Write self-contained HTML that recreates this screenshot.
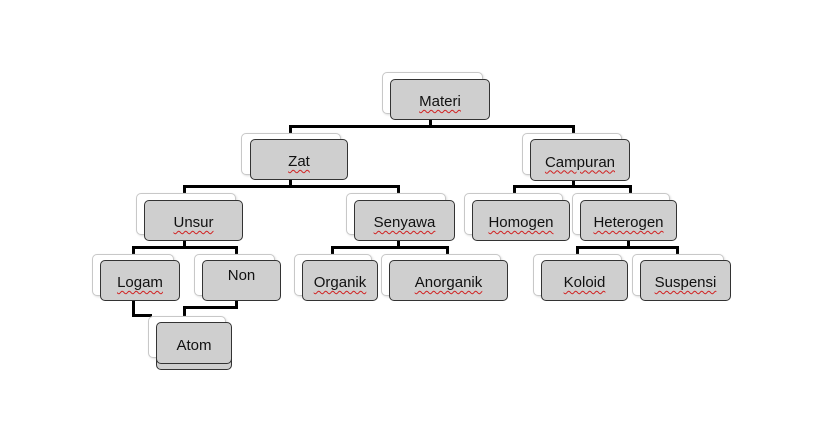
<!DOCTYPE html>
<html><head><style>
body{margin:0;width:826px;height:428px;background:#fff;position:relative;overflow:hidden;font-family:"Liberation Sans",Arial,sans-serif}
.b{position:absolute;background:#fff;border:1px solid #c8c8c8;border-radius:5px;box-shadow:1px 1px 2px #ddd}
.f{position:absolute;background:#cfcfcf;border:1px solid #333;border-radius:5px;box-sizing:border-box;display:flex;align-items:center;justify-content:center;font-size:15px;color:#111;padding-top:4px}
.f span{text-decoration:underline wavy #d02020;text-decoration-thickness:1px;text-underline-offset:3px}
.l{position:absolute;background:#000}
</style></head><body>
<div class="l" style="left:429px;top:119px;width:3px;height:8px"></div>
<div class="l" style="left:289px;top:125px;width:286px;height:3px"></div>
<div class="l" style="left:289px;top:125px;width:3px;height:14px"></div>
<div class="l" style="left:572px;top:125px;width:3px;height:14px"></div>

<div class="l" style="left:289px;top:179px;width:3px;height:8px"></div>
<div class="l" style="left:183px;top:185px;width:217px;height:3px"></div>
<div class="l" style="left:183px;top:185px;width:3px;height:10px"></div>
<div class="l" style="left:397px;top:185px;width:3px;height:10px"></div>

<div class="l" style="left:572px;top:180px;width:3px;height:7px"></div>
<div class="l" style="left:513px;top:185px;width:119px;height:3px"></div>
<div class="l" style="left:513px;top:185px;width:3px;height:10px"></div>
<div class="l" style="left:629px;top:185px;width:3px;height:10px"></div>

<div class="l" style="left:183px;top:240px;width:3px;height:8px"></div>
<div class="l" style="left:132px;top:246px;width:106px;height:3px"></div>
<div class="l" style="left:132px;top:246px;width:3px;height:10px"></div>
<div class="l" style="left:235px;top:246px;width:3px;height:10px"></div>

<div class="l" style="left:397px;top:240px;width:3px;height:8px"></div>
<div class="l" style="left:331px;top:246px;width:118px;height:3px"></div>
<div class="l" style="left:331px;top:246px;width:3px;height:10px"></div>
<div class="l" style="left:446px;top:246px;width:3px;height:10px"></div>

<div class="l" style="left:627px;top:240px;width:3px;height:8px"></div>
<div class="l" style="left:576px;top:246px;width:103px;height:3px"></div>
<div class="l" style="left:576px;top:246px;width:3px;height:10px"></div>
<div class="l" style="left:676px;top:246px;width:3px;height:10px"></div>

<div class="l" style="left:132px;top:300px;width:3px;height:17px"></div>
<div class="l" style="left:132px;top:314px;width:20px;height:3px"></div>
<div class="l" style="left:235px;top:300px;width:3px;height:9px"></div>
<div class="l" style="left:183px;top:306px;width:55px;height:3px"></div>
<div class="l" style="left:183px;top:306px;width:3px;height:10px"></div>

<div class="b" style="left:382px;top:72px;width:99px;height:40px"></div>
<div class="f" style="left:390px;top:79px;width:100px;height:41px"><span>Materi</span></div>

<div class="b" style="left:241px;top:133px;width:98px;height:40px"></div>
<div class="f" style="left:250px;top:139px;width:98px;height:41px"><span>Zat</span></div>

<div class="b" style="left:522px;top:133px;width:98px;height:40px"></div>
<div class="f" style="left:530px;top:139px;width:100px;height:42px"><span>Campuran</span></div>

<div class="b" style="left:136px;top:193px;width:98px;height:40px"></div>
<div class="f" style="left:144px;top:200px;width:99px;height:41px"><span>Unsur</span></div>

<div class="b" style="left:346px;top:193px;width:98px;height:40px"></div>
<div class="f" style="left:354px;top:200px;width:101px;height:41px"><span>Senyawa</span></div>

<div class="b" style="left:464px;top:193px;width:97px;height:40px"></div>
<div class="f" style="left:472px;top:200px;width:98px;height:41px"><span>Homogen</span></div>

<div class="b" style="left:572px;top:193px;width:96px;height:40px"></div>
<div class="f" style="left:580px;top:200px;width:97px;height:41px"><span>Heterogen</span></div>

<div class="b" style="left:92px;top:254px;width:80px;height:40px"></div>
<div class="f" style="left:100px;top:260px;width:80px;height:41px"><span>Logam</span></div>

<div class="b" style="left:194px;top:254px;width:79px;height:40px"></div>
<div class="f" style="left:202px;top:260px;width:79px;height:41px;align-items:flex-start;padding-top:6px">Non</div>

<div class="b" style="left:294px;top:254px;width:76px;height:40px"></div>
<div class="f" style="left:302px;top:260px;width:76px;height:41px"><span>Organik</span></div>

<div class="b" style="left:381px;top:254px;width:118px;height:40px"></div>
<div class="f" style="left:389px;top:260px;width:119px;height:41px"><span>Anorganik</span></div>

<div class="b" style="left:533px;top:254px;width:87px;height:40px"></div>
<div class="f" style="left:541px;top:260px;width:87px;height:41px"><span>Koloid</span></div>

<div class="b" style="left:632px;top:254px;width:90px;height:40px"></div>
<div class="f" style="left:640px;top:260px;width:91px;height:41px"><span>Suspensi</span></div>

<div class="b" style="left:148px;top:316px;width:76px;height:40px"></div>
<div class="f" style="left:156px;top:328px;width:76px;height:42px"></div>
<div class="f" style="left:156px;top:322px;width:76px;height:42px">Atom</div>
</body></html>
